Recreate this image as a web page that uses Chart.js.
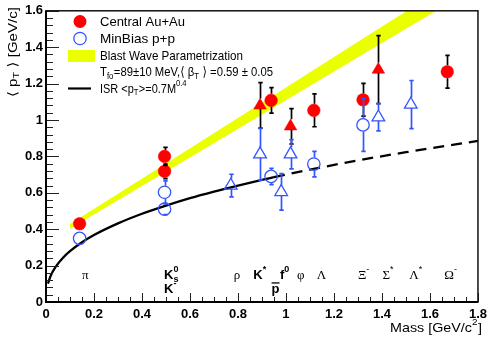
<!DOCTYPE html>
<html><head><meta charset="utf-8">
<script src="https://cdn.jsdelivr.net/npm/chart.js@4.4.0/dist/chart.umd.min.js"></script>
<style>html,body{margin:0;padding:0;background:#fff}</style>
</head><body>
<canvas id="c" width="492" height="343" style="display:block"></canvas>
<script>
// ---------- data ----------
const xTickLabels = ['0','0.2','0.4','0.6','0.8','1','1.2','1.4','1.6','1.8'];
const yTickLabels = ['0','0.2','0.4','0.6','0.8','1','1.2','1.4','1.6'];

// Central Au+Au, circles
const auCircMass = [0.140, 0.494, 0.494, 0.938, 1.116, 1.321, 1.672];
const auCircPt   = [0.430, 0.800, 0.718, 1.108, 1.053, 1.111, 1.265];
const auCircErr  = [0.000, 0.050, 0.040, 0.070, 0.090, 0.090, 0.090];
// Central Au+Au, triangles (resonances)
const auTriMass = [0.892, 1.019, 1.385];
const auTriPt   = [1.080, 0.965, 1.277];
const auTriErr  = [0.125, 0.097, 0.187];
// MinBias p+p, circles
const ppCircMass = [0.140, 0.494, 0.494, 0.938, 1.116, 1.321];
const ppCircPt   = [0.350, 0.603, 0.510, 0.690, 0.758, 0.973];
const ppCircErr  = [0.000, 0.062, 0.030, 0.045, 0.070, 0.145];
// MinBias p+p, triangles (resonances)
const ppTriMass = [0.770, 0.892, 0.980, 1.019, 1.385, 1.520];
const ppTriPt   = [0.640, 0.812, 0.605, 0.812, 1.015, 1.085];
const ppTriErr  = [0.062, 0.142, 0.100, 0.080, 0.075, 0.132];

// Blast wave band
const bandMass = [0.10, 0.50, 0.90, 1.30, 1.70];
const bandLow  = [0.403, 0.716, 1.030, 1.345, 1.658];
const bandHigh = [0.428, 0.761, 1.095, 1.430, 1.763];

// ISR curve (solid part, then dashed extrapolation)
const isrSolidMass = [0.008, 0.02, 0.04, 0.07, 0.10, 0.15, 0.20, 0.30, 0.40, 0.50, 0.60, 0.70, 0.80, 0.90, 0.95];
const isrSolidPt   = [0.101, 0.146, 0.193, 0.242, 0.279, 0.328, 0.368, 0.432, 0.485, 0.530, 0.571, 0.607, 0.640, 0.671, 0.686];
const isrDashMass  = [0.95, 1.10, 1.30, 1.50, 1.80];
const isrDashPt    = [0.686, 0.727, 0.778, 0.823, 0.885];

// particle labels
const labelText  = ['π', 'K_{s}^{0}', 'K^{-}', 'ρ', 'K^{*}', 'p', 'f^{0}', 'φ', 'Λ', 'Ξ^{-}', 'Σ^{*}', 'Λ^{*}', 'Ω^{-}'];
const labelMass  = [0.150, 0.492, 0.492, 0.782, 0.864, 0.940, 0.975, 1.046, 1.128, 1.300, 1.402, 1.514, 1.660];
const labelLevel = [0.124, 0.124, 0.047, 0.124, 0.124, 0.047, 0.124, 0.124, 0.124, 0.124, 0.124, 0.124, 0.124];
const labelStyle = ['g', 'b', 'b', 'g', 'b', 'bar', 'b', 'g', 'g', 'g', 'g', 'g', 'g'];

// legend entries
const legendText = ['Central Au+Au', 'MinBias p+p', 'Blast Wave Parametrization',
                    'T_{fo}=89±10 MeV,⟨ β_{T} ⟩ =0.59 ± 0.05', 'ISR <p_{T}>=0.7M^{0.4}'];

// ---------- styles ----------
const RED = '#ff0000', BLUE = '#3355ff', YEL = '#eaff00';
const SANS = '"Liberation Sans", Arial, "DejaVu Sans", sans-serif';
const SERIF = '"Liberation Serif", "DejaVu Serif", serif';
const legendRowY = [22, 39, 56, 72.5, 89];
const legendFit = [85, 75, 143, 173, 87];

const pts = (xs, ys) => xs.map((x, i) => ({x: x, y: ys[i]}));

function parseRich(s){
  const segs = []; let i = 0;
  while (i < s.length){
    if ((s[i] === '_' || s[i] === '^') && s[i+1] === '{'){
      const j = s.indexOf('}', i);
      segs.push({t: s.slice(i+2, j), k: s[i] === '_' ? 'sub' : 'sup'});
      i = j + 1;
    } else {
      let j = i;
      while (j < s.length && !((s[j] === '_' || s[j] === '^') && s[j+1] === '{')) j++;
      segs.push({t: s.slice(i, j), k: 'n'});
      i = j;
    }
  }
  return segs;
}
function drawRich(ctx, s, x, y, o){
  const segs = parseRich(s);
  let cx = 0, lastScriptX = null, lastScriptW = 0, prevK = 'n';
  const placed = [];
  segs.forEach(sg => {
    ctx.font = sg.k === 'n' ? o.font : o.small;
    const w = ctx.measureText(sg.t).width;
    if (sg.k !== 'n' && prevK !== 'n' && prevK !== sg.k){
      placed.push({sg, x: lastScriptX});
      cx = Math.max(lastScriptX + lastScriptW, lastScriptX + w);
      lastScriptW = Math.max(lastScriptW, w);
    } else {
      placed.push({sg, x: cx});
      if (sg.k !== 'n'){ lastScriptX = cx; lastScriptW = w; }
      cx += w + (sg.k !== 'n' ? 0.5 : 0);
    }
    prevK = sg.k;
  });
  const sx = o.fit ? o.fit / cx : 1;
  const total = cx * sx;
  let x0 = x;
  if (o.align === 'right') x0 = x - total;
  else if (o.align === 'center') x0 = x - total / 2;
  ctx.save();
  ctx.translate(x0, y);
  ctx.scale(sx, 1);
  ctx.textAlign = 'left';
  ctx.textBaseline = o.baseline || 'middle';
  placed.forEach(p => {
    const sg = p.sg;
    ctx.font = sg.k === 'n' ? o.font : o.small;
    let dy = 0;
    if (sg.k === 'sub') dy = o.subDy;
    if (sg.k === 'sup') dy = o.supDy;
    ctx.fillText(sg.t, p.x, dy);
  });
  ctx.restore();
  return {x0, width: total};
}

function drawErr(ctx, xs, ys, m, v, e, color, gUp, gDn){
  ctx.save();
  ctx.strokeStyle = color; ctx.lineWidth = 1.7;
  for (let i = 0; i < m.length; i++){
    if (!e[i]) continue;
    const px = Math.round(xs.getPixelForValue(m[i])) + 0.5;
    const py = ys.getPixelForValue(v[i]);
    const top = ys.getPixelForValue(v[i] + e[i]);
    const bot = ys.getPixelForValue(v[i] - e[i]);
    ctx.beginPath();
    if (py - top > gUp){ ctx.moveTo(px, top); ctx.lineTo(px, py - gUp); }
    if (bot - py > gDn){ ctx.moveTo(px, py + gDn); ctx.lineTo(px, bot); }
    ctx.moveTo(px - 2.2, top); ctx.lineTo(px + 2.2, top);
    ctx.moveTo(px - 2.2, bot); ctx.lineTo(px + 2.2, bot);
    ctx.stroke();
  }
  ctx.restore();
}

const overlay = {
  id: 'overlay',
  afterDatasetsDraw(chart){
    const {ctx, scales: {x, y}} = chart;
    ctx.save();
    ctx.beginPath();
    ctx.rect(chart.chartArea.left, chart.chartArea.top, chart.chartArea.width, chart.chartArea.height);
    ctx.clip();
    drawErr(ctx, x, y, auCircMass, auCircPt, auCircErr, '#000', 6.5, 6.5);
    drawErr(ctx, x, y, auTriMass, auTriPt, auTriErr, '#000', 7, 3.5);
    drawErr(ctx, x, y, ppCircMass, ppCircPt, ppCircErr, BLUE, 6.5, 6.5);
    drawErr(ctx, x, y, ppTriMass, ppTriPt, ppTriErr, BLUE, 7, 3.5);
    ctx.restore();
  },
  afterDraw(chart){
    const {ctx, chartArea: a, scales: {x, y}} = chart;
    ctx.save();
    // ticks
    ctx.strokeStyle = '#222'; ctx.lineWidth = 1;
    ctx.beginPath();
    for (let i = 0; i <= 40; i++){
      const py = Math.round(y.getPixelForValue(i * 0.04)) + 0.5;
      const len = (i % 5 === 0) ? 13 : 7;
      ctx.moveTo(a.left, py); ctx.lineTo(a.left + len, py);
    }
    for (let i = 0; i <= 36; i++){
      const px = Math.round(x.getPixelForValue(i * 0.05)) + 0.5;
      const len = (i % 4 === 0) ? 9 : 5;
      ctx.moveTo(px, a.bottom); ctx.lineTo(px, a.bottom - len);
    }
    ctx.stroke();
    // frame
    ctx.strokeStyle = '#111'; ctx.lineWidth = 1.5;
    ctx.strokeRect(a.left, a.top, a.right - a.left, a.bottom - a.top);
    ctx.strokeStyle = '#000'; ctx.lineWidth = 2;
    ctx.beginPath();
    ctx.moveTo(a.left, a.top); ctx.lineTo(a.left, a.bottom); ctx.lineTo(a.right, a.bottom);
    ctx.stroke();

    // legend markers
    ctx.fillStyle = RED;
    ctx.beginPath(); ctx.arc(80, 21.5, 6.5, 0, Math.PI * 2); ctx.fill();
    ctx.strokeStyle = BLUE; ctx.lineWidth = 1.3;
    ctx.beginPath(); ctx.arc(80, 38.5, 6.2, 0, Math.PI * 2); ctx.stroke();
    ctx.fillStyle = YEL; ctx.fillRect(68, 50, 27, 12);
    ctx.strokeStyle = '#000'; ctx.lineWidth = 2.2;
    ctx.beginPath(); ctx.moveTo(68, 88.5); ctx.lineTo(91, 88.5); ctx.stroke();

    // legend text
    ctx.fillStyle = '#000';
    for (let i = 0; i < legendText.length; i++){
      drawRich(ctx, legendText[i], 100, legendRowY[i],
        {font: '13px ' + SANS, small: '9px ' + SANS, subDy: 4, supDy: -5, fit: legendFit[i]});
    }

    // particle labels
    for (let i = 0; i < labelText.length; i++){
      const st = labelStyle[i];
      const px = x.getPixelForValue(labelMass[i]);
      const py = y.getPixelForValue(labelLevel[i]);
      const font = st === 'g' ? '13px ' + SERIF : 'bold 13px ' + SANS;
      const small = st === 'g' ? '9px ' + SANS : 'bold 9px ' + SANS;
      const r = drawRich(ctx, labelText[i], px, py, {font, small, subDy: 3, supDy: -7, baseline: 'alphabetic', align: 'left'});
      if (st === 'bar'){
        ctx.strokeStyle = '#000'; ctx.lineWidth = 1.3;
        ctx.beginPath(); ctx.moveTo(r.x0, py - 10.5); ctx.lineTo(r.x0 + r.width, py - 10.5); ctx.stroke();
      }
    }

    // axis titles
    drawRich(ctx, 'Mass [GeV/c^{2}]', 482, 328,
      {font: '13px ' + SANS, small: '9px ' + SANS, subDy: 4, supDy: -5, align: 'right', fit: 92});
    ctx.save();
    ctx.translate(13, 7);
    ctx.rotate(-Math.PI / 2);
    drawRich(ctx, '⟨ p_{T} ⟩ [GeV/c]', 0, 0,
      {font: '13px ' + SANS, small: '9px ' + SANS, subDy: 4, supDy: -5, align: 'right', fit: 90});
    ctx.restore();
    ctx.restore();
  }
};

const tickFont = {family: SANS, size: 13, weight: 'bold'};

new Chart(document.getElementById('c'), {
  type: 'scatter',
  data: {
    datasets: [
      {data: pts(auCircMass, auCircPt), pointStyle: 'circle', pointRadius: 6.3, backgroundColor: RED, borderColor: RED, borderWidth: 0.5, order: 1},
      {data: pts(auTriMass, auTriPt), pointStyle: 'triangle', pointRadius: 7.3, backgroundColor: RED, borderColor: RED, borderWidth: 0.5, order: 1},
      {data: pts(ppCircMass, ppCircPt), pointStyle: 'circle', pointRadius: 6.2, backgroundColor: 'rgba(0,0,0,0)', borderColor: BLUE, borderWidth: 1.3, order: 2},
      {data: pts(ppTriMass, ppTriPt), pointStyle: 'triangle', pointRadius: 7.3, backgroundColor: 'rgba(0,0,0,0)', borderColor: BLUE, borderWidth: 1.3, order: 2},
      {data: pts(isrSolidMass, isrSolidPt), showLine: true, borderColor: '#000', borderWidth: 2.3, pointRadius: 0, cubicInterpolationMode: 'monotone', order: 5},
      {data: pts(isrDashMass, isrDashPt), showLine: true, borderColor: '#000', borderWidth: 2.3, borderDash: [11, 7], pointRadius: 0, cubicInterpolationMode: 'monotone', order: 5},
      {data: pts(bandMass, bandHigh), showLine: true, borderWidth: 0, borderColor: YEL, backgroundColor: YEL, pointRadius: 0, fill: '+1', order: 10},
      {data: pts(bandMass, bandLow), showLine: true, borderWidth: 0, borderColor: YEL, pointRadius: 0, fill: false, order: 11}
    ]
  },
  options: {
    responsive: false, animation: false, devicePixelRatio: 1,
    layout: {padding: {left: 0, right: 10, top: 8, bottom: 0}},
    plugins: {legend: {display: false}, tooltip: {enabled: false}},
    scales: {
      x: {
        type: 'linear', min: 0, max: 1.8,
        grid: {display: false, drawTicks: false}, border: {display: false},
        ticks: {stepSize: 0.2, font: tickFont, color: '#000', padding: 5, maxRotation: 0,
          callback: v => xTickLabels[Math.round(v / 0.2)]},
        afterFit: s => { s.height = 41; }
      },
      y: {
        type: 'linear', min: 0, max: 1.6,
        grid: {display: false, drawTicks: false}, border: {display: false},
        ticks: {stepSize: 0.2, font: tickFont, color: '#000', padding: 3,
          callback: v => yTickLabels[Math.round(v / 0.2)]},
        afterFit: s => { s.width = 46; }
      }
    }
  },
  plugins: [overlay]
});
</script>
</body></html>
